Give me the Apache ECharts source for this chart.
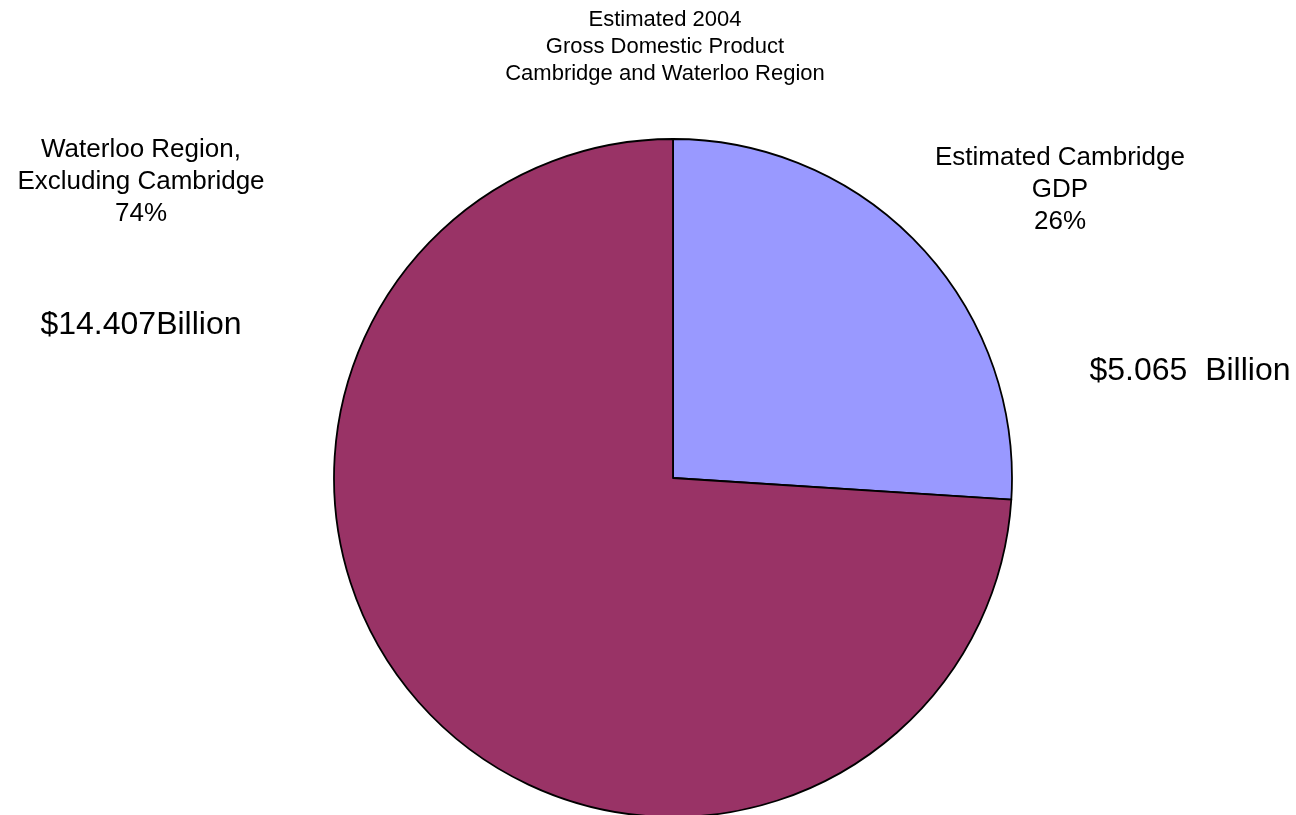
<!DOCTYPE html>
<html>
<head>
<meta charset="utf-8">
<title>Estimated 2004 GDP - Cambridge and Waterloo Region</title>
<script src="https://cdn.jsdelivr.net/npm/echarts@6/dist/echarts.min.js"></script>
<style>
  html, body { margin: 0; padding: 0; background: #fff; }
  #chart { width: 1296px; height: 815px; }
</style>
</head>
<body>
<div id="chart"></div>
<script>
// data
const titleLines = ['Estimated 2004', 'Gross Domestic Product', 'Cambridge and Waterloo Region']
const sliceNames = ['Estimated Cambridge\nGDP', 'Waterloo Region,\nExcluding Cambridge']
const sliceValues = [5.065, 14.407]  // billions
const amountLabels = ['$5.065  Billion', '$14.407Billion']
const sliceColors = ['#9999FF', '#993366']

// where the labels sit (pixels)
const labelSpots = [
  { x: 1060, y: 190 },
  { x: 141, y: 182 }
]
const amountSpots = [
  { x: 1190, y: 371 },
  { x: 141, y: 325 }
]

const FONT = '"Liberation Sans", Arial, sans-serif'

const chart = echarts.init(document.getElementById('chart'))

const option = {
  backgroundColor: '#fff',
  animation: false,
  series: [{
    type: 'pie',
    center: [673, 478],
    radius: 339,
    startAngle: 90,
    clockwise: true,
    itemStyle: {
      borderColor: '#000',
      borderWidth: 1.8
    },
    label: {
      show: true,
      position: 'outside',
      formatter: p => p.name + '\n' + Math.round(p.percent) + '%',
      fontFamily: FONT,
      fontSize: 26,
      lineHeight: 32,
      color: '#000',
      align: 'center'
    },
    labelLine: { show: false },
    labelLayout: p => ({
      x: labelSpots[p.dataIndex].x,
      y: labelSpots[p.dataIndex].y,
      align: 'center',
      verticalAlign: 'middle'
    }),
    emphasis: { disabled: true },
    data: sliceNames.map((n, i) => ({
      name: n,
      value: sliceValues[i],
      itemStyle: { color: sliceColors[i] }
    }))
  }],
  graphic: [
    {
      // title, centred a little right of the page middle like the original
      type: 'text',
      x: 665,
      y: 6,
      style: {
        text: titleLines.join('\n'),
        fontFamily: FONT,
        fontSize: 22,
        lineHeight: 27,
        fill: '#000',
        align: 'center',
        verticalAlign: 'top'
      }
    },
    ...amountLabels.map((t, i) => ({
      type: 'text',
      x: amountSpots[i].x,
      y: amountSpots[i].y,
      style: {
        text: t,
        fontFamily: FONT,
        fontSize: 32,
        fill: '#000',
        align: 'center',
        verticalAlign: 'middle'
      }
    }))
  ]
}

chart.setOption(option)
window.addEventListener('resize', () => chart.resize())
</script>
</body>
</html>
